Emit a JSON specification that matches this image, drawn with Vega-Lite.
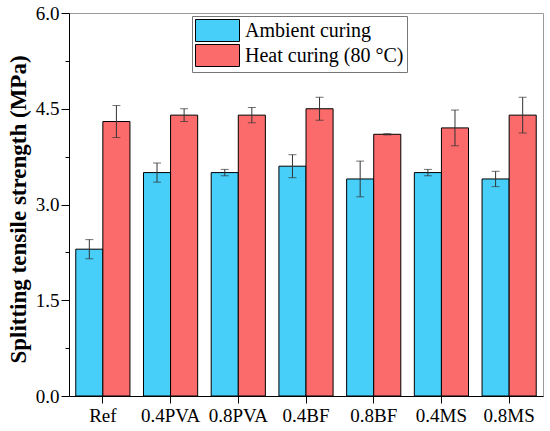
{
  "$schema": "https://vega.github.io/schema/vega-lite/v6.json",
  "description": "Splitting tensile strength, ambient vs heat curing",
  "width": 474,
  "height": 383,
  "autosize": "none",
  "padding": {"left": 69, "top": 13, "right": 7, "bottom": 35},
  "background": "white",
  "config": {
    "font": "Liberation Serif, Times New Roman, serif",
    "axis": {"labelFont": "Liberation Serif, Times New Roman, serif", "titleFont": "Liberation Serif, Times New Roman, serif"},
    "legend": {"labelFont": "Liberation Serif, Times New Roman, serif"},
    "view": {"stroke": "#9a9a9a", "strokeWidth": 1}
  },
  "data": {
    "values": [
      {"mix": "Ref", "curing": "Ambient curing", "value": 2.30, "lo": 2.15, "hi": 2.45},
      {"mix": "Ref", "curing": "Heat curing (80 °C)", "value": 4.30, "lo": 4.05, "hi": 4.55},
      {"mix": "0.4PVA", "curing": "Ambient curing", "value": 3.50, "lo": 3.35, "hi": 3.65},
      {"mix": "0.4PVA", "curing": "Heat curing (80 °C)", "value": 4.40, "lo": 4.30, "hi": 4.50},
      {"mix": "0.8PVA", "curing": "Ambient curing", "value": 3.50, "lo": 3.45, "hi": 3.55},
      {"mix": "0.8PVA", "curing": "Heat curing (80 °C)", "value": 4.40, "lo": 4.28, "hi": 4.52},
      {"mix": "0.4BF", "curing": "Ambient curing", "value": 3.60, "lo": 3.42, "hi": 3.78},
      {"mix": "0.4BF", "curing": "Heat curing (80 °C)", "value": 4.50, "lo": 4.32, "hi": 4.68},
      {"mix": "0.8BF", "curing": "Ambient curing", "value": 3.40, "lo": 3.12, "hi": 3.68},
      {"mix": "0.8BF", "curing": "Heat curing (80 °C)", "value": 4.10, "lo": 4.09, "hi": 4.11},
      {"mix": "0.4MS", "curing": "Ambient curing", "value": 3.50, "lo": 3.45, "hi": 3.55},
      {"mix": "0.4MS", "curing": "Heat curing (80 °C)", "value": 4.20, "lo": 3.92, "hi": 4.48},
      {"mix": "0.8MS", "curing": "Ambient curing", "value": 3.40, "lo": 3.28, "hi": 3.52},
      {"mix": "0.8MS", "curing": "Heat curing (80 °C)", "value": 4.40, "lo": 4.12, "hi": 4.68}
    ]
  },
  "encoding": {
    "x": {
      "field": "mix",
      "type": "nominal",
      "sort": ["Ref", "0.4PVA", "0.8PVA", "0.4BF", "0.8BF", "0.4MS", "0.8MS"],
      "scale": {"paddingInner": 0.2, "paddingOuter": 0.1},
      "axis": {
        "title": null,
        "labelAngle": 0,
        "labelFontSize": 19,
        "labelColor": "black",
        "labelPadding": 3,
        "labelOverlap": false,
        "labelBound": false,
        "tickSize": 7,
        "tickColor": "black",
        "domainColor": "black",
        "grid": false
      }
    },
    "xOffset": {
      "field": "curing",
      "type": "nominal",
      "sort": ["Ambient curing", "Heat curing (80 °C)"]
    }
  },
  "layer": [
    {
      "mark": {"type": "bar", "stroke": "black", "strokeWidth": 1},
      "encoding": {
        "y": {
          "field": "value",
          "type": "quantitative",
          "scale": {"domain": [0, 6], "nice": false},
          "axis": {
            "title": "Splitting tensile strength (MPa)",
            "titleFontSize": 23,
            "titleFontWeight": "bold",
            "titleColor": "black",
            "titlePadding": 5,
            "titleY": 196,
            "values": [0, 0.75, 1.5, 2.25, 3, 3.75, 4.5, 5.25, 6],
            "labelExpr": "datum.value % 1.5 == 0 ? format(datum.value, '.1f') : ''",
            "labelFontSize": 19,
            "labelColor": "black",
            "labelPadding": 2,
            "tickSize": {"condition": {"test": "datum.value % 1.5 != 0", "value": 4}, "value": 8},
            "tickColor": "black",
            "domainColor": "black",
            "grid": false
          }
        },
        "color": {
          "field": "curing",
          "type": "nominal",
          "sort": ["Ambient curing", "Heat curing (80 °C)"],
          "scale": {
            "domain": ["Ambient curing", "Heat curing (80 °C)"],
            "range": ["#47CFFA", "#FB6B6B"]
          },
          "legend": {
            "title": null,
            "orient": "none",
            "legendX": 123,
            "legendY": 3,
            "symbolType": "M-1,-1H3V1H-1Z",
            "symbolSize": 484,
            "symbolStrokeColor": "black",
            "symbolStrokeWidth": 1,
            "symbolOpacity": 1,
            "labelFontSize": 20,
            "labelColor": "black",
            "labelOffset": 27,
            "rowPadding": -3.5,
            "padding": 3,
            "strokeColor": "#777777",
            "fillColor": "white"
          }
        }
      }
    },
    {
      "mark": {"type": "rule", "color": "#333333", "strokeWidth": 1},
      "encoding": {
        "y": {"field": "lo", "type": "quantitative"},
        "y2": {"field": "hi"}
      }
    },
    {
      "mark": {"type": "tick", "color": "#333333", "thickness": 1, "size": 8, "orient": "horizontal"},
      "encoding": {"y": {"field": "lo", "type": "quantitative"}}
    },
    {
      "mark": {"type": "tick", "color": "#333333", "thickness": 1, "size": 8, "orient": "horizontal"},
      "encoding": {"y": {"field": "hi", "type": "quantitative"}}
    }
  ]
}
